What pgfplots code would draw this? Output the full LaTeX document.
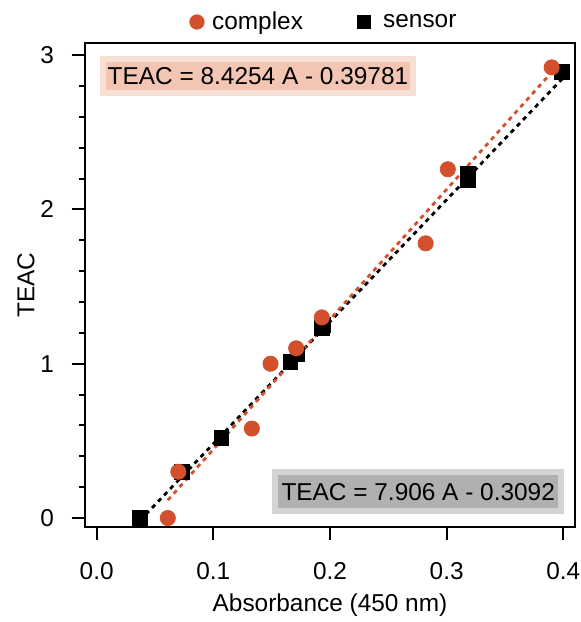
\documentclass[border=0pt]{standalone}
\usepackage{fontspec}
\setmainfont{Liberation Sans}
\usepackage{pgfplots}
\pgfplotsset{compat=1.18}
\definecolor{cplx}{HTML}{D2502B}
\definecolor{eqorange}{RGB}{243,198,180}
\definecolor{eqgray}{RGB}{176,176,176}

\pgfplotstableread{
x y
0.061 0.00
0.070 0.30
0.133 0.58
0.149 1.00
0.171 1.10
0.193 1.30
0.282 1.78
0.301 2.26
0.390 2.92
}\complexdata

\pgfplotstableread{
x y
0.037 0.00
0.073 0.30
0.107 0.52
0.166 1.01
0.172 1.06
0.193 1.23
0.194 1.25
0.318 2.19
0.318 2.23
0.399 2.89
}\sensordata

\begin{document}
\begin{tikzpicture}[font=\fontsize{12.2}{14}\selectfont]
\path[use as bounding box] (-42.5pt,-47.5pt) rectangle (248pt,263.5pt);
\begin{axis}[
  scale only axis,
  width=245pt, height=242pt,
  xmin=-0.01, xmax=0.41,
  ymin=-0.058, ymax=3.078,
  xtick={0,0.1,0.2,0.3,0.4},
  xticklabels={0.0,0.1,0.2,0.3,0.4},
  ytick={0,1,2,3},
  minor y tick num=4,
  tick pos=left,
  tick align=outside,
  major tick length=6.5pt,
  minor tick length=3pt,
  axis line style={line width=1pt},
  every tick/.style={line width=1pt, black},
  /pgf/number format/assume math mode=true,
  xticklabel style={anchor=center, yshift=-15.5pt},
  yticklabel style={anchor=east, xshift=-5.5pt},
  xlabel={Absorbance (450 nm)},
  ylabel={TEAC},
  xlabel style={at={([yshift=-39pt]axis description cs:0.5,0)}, anchor=center},
  ylabel style={at={([xshift=-29.5pt]axis description cs:0,0.5)}, anchor=center},
  legend style={at={([yshift=10.5pt]axis description cs:0.49,1)}, anchor=center,
    draw=none, fill=none, legend columns=2,
    /tikz/every even column/.append style={column sep=25pt}},
  legend cell align=left,
  legend image code/.code={\draw[#1] plot coordinates {(0.15cm,0cm)};},
]
\addlegendimage{only marks, mark=*, mark size=3.6pt, cplx, mark options={draw=cplx, fill=cplx}}
\addlegendentry{\hspace{2pt}complex}
\addlegendimage{only marks, mark=square*, mark size=3.3pt, black}
\addlegendentry{\hspace{4.5pt}sensor}
\addplot[forget plot, only marks, mark=square*, mark size=3.7pt, black] table {\sensordata};
\addplot[forget plot, only marks, mark=*, mark size=3.8pt, cplx, mark options={draw=cplx, fill=cplx}] table {\complexdata};
\addplot[forget plot, black, line width=1.4pt, dash pattern=on 2.2pt off 2.2pt] coordinates {(0.037,-0.0167) (0.399,2.8453)};
\addplot[forget plot, cplx, line width=1.4pt, dash pattern=on 2.2pt off 2.2pt] coordinates {(0.061,0.1161) (0.390,2.888)};
\node[fill=eqorange, draw=eqorange!55, line width=3pt, minimum width=155pt, minimum height=17pt, inner sep=0pt]
  at (rel axis cs:0.353,0.932) {TEAC = 8.4254 A - 0.39781};
\node[fill=eqgray, draw=eqgray!55, line width=3pt, minimum width=143pt, minimum height=19.5pt, inner sep=0pt]
  at (rel axis cs:0.680,0.073) {TEAC = 7.906 A - 0.3092};
\end{axis}
\end{tikzpicture}
\end{document}
